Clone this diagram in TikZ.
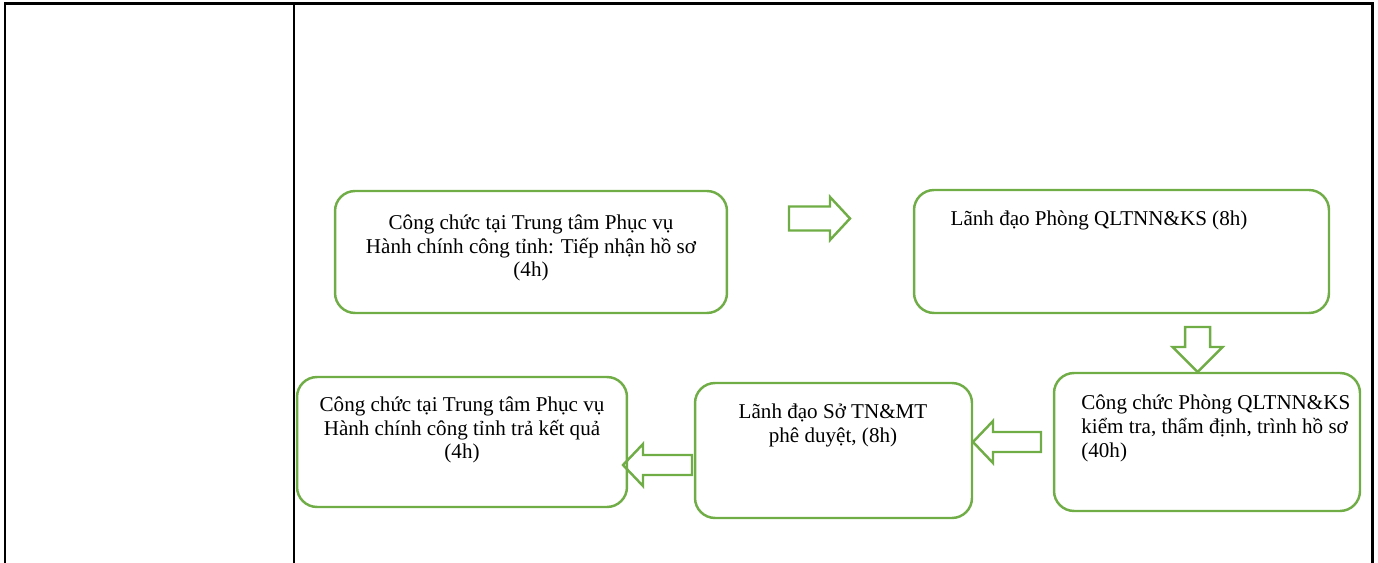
\documentclass[tikz,border=0pt]{standalone}
\usepackage{fontspec}
\setmainfont{Liberation Serif}
\usepackage{tikz}
\usetikzlibrary{calc,positioning}
\definecolor{boxgreen}{RGB}{112,173,71}
\def\blockarrow[#1](#2)(#3:#4:#5:#6:#7){\draw[#1,shift={(#2)},rotate=#3] (0,-#5/2) -- (#4-#7,-#5/2) -- (#4-#7,-#6/2) -- (#4,0) -- (#4-#7,#6/2) -- (#4-#7,#5/2) -- (0,#5/2) -- cycle;}

\begin{document}
\begin{tikzpicture}[x=0.02cm, y=-0.02cm,
		stepbox/.style={draw=boxgreen, line width=1.4pt, rounded corners=0.4cm, inner sep=0pt},
		steptext/.style={inner sep=0pt, align=center, font=\fontsize{12}{13.6}\selectfont},
		tableline/.style={line width=1.7pt, line cap=rect},
		blockline/.style={draw=boxgreen, line width=1.4pt}]
			%%%%% START %%%%%
			\useasboundingbox (0,0) rectangle (1378,563);
			
			% table frame
			\draw[tableline] (5,563) -- (5,4) -- (1372,4) -- (1372,563);
			\draw[tableline] (294,4) -- (294,563);
			
			% steps
			\node[stepbox, minimum width=7.84cm, minimum height=2.44cm] (tiepnhan) at (531,252) {};
			\node[steptext] (tiepnhantxt) at (531,248) {Công chức tại Trung tâm Phục vụ\\Hành chính công tỉnh: Tiếp nhận hồ sơ\\(4h)};
			
			\node[stepbox, minimum width=8.3cm, minimum height=2.46cm] (lanhdaophong) at (1121.5,251.5) {};
			\node[steptext] (lanhdaophongtxt) at (1099,220) {Lãnh đạo Phòng QLTNN\&KS (8h)};
			
			\node[stepbox, minimum width=6.12cm, minimum height=2.76cm] (thamdinh) at (1207,442) {};
			\node[steptext, align=left, anchor=west] (thamdinhtxt) at (1081,428.5) {Công chức Phòng QLTNN\&KS\\kiểm tra, thẩm định, trình hồ sơ\\(40h)};
			
			\node[stepbox, minimum width=5.54cm, minimum height=2.7cm] (pheduyet) at (833.5,450.5) {};
			\node[steptext] (pheduyettxt) at (833,425.5) {Lãnh đạo Sở TN\&MT\\phê duyệt, (8h)};
			
			\node[stepbox, minimum width=6.6cm, minimum height=2.6cm] (traketqua) at (462,442) {};
			\node[steptext] (traketquatxt) at (462,430) {Công chức tại Trung tâm Phục vụ\\Hành chính công tỉnh trả kết quả\\(4h)};
			
			% block arrows
			\blockarrow[blockline](789,218.5)(0:61:24:43:20);
			\blockarrow[blockline](1197.5,327)(-90:45:25:50:25);
			\blockarrow[blockline](1041,442)(180:68:20:42:20);
			\blockarrow[blockline](692,465)(180:69:20:42:20);
			
			%%%%% END %%%%%
\end{tikzpicture}
\end{document}
